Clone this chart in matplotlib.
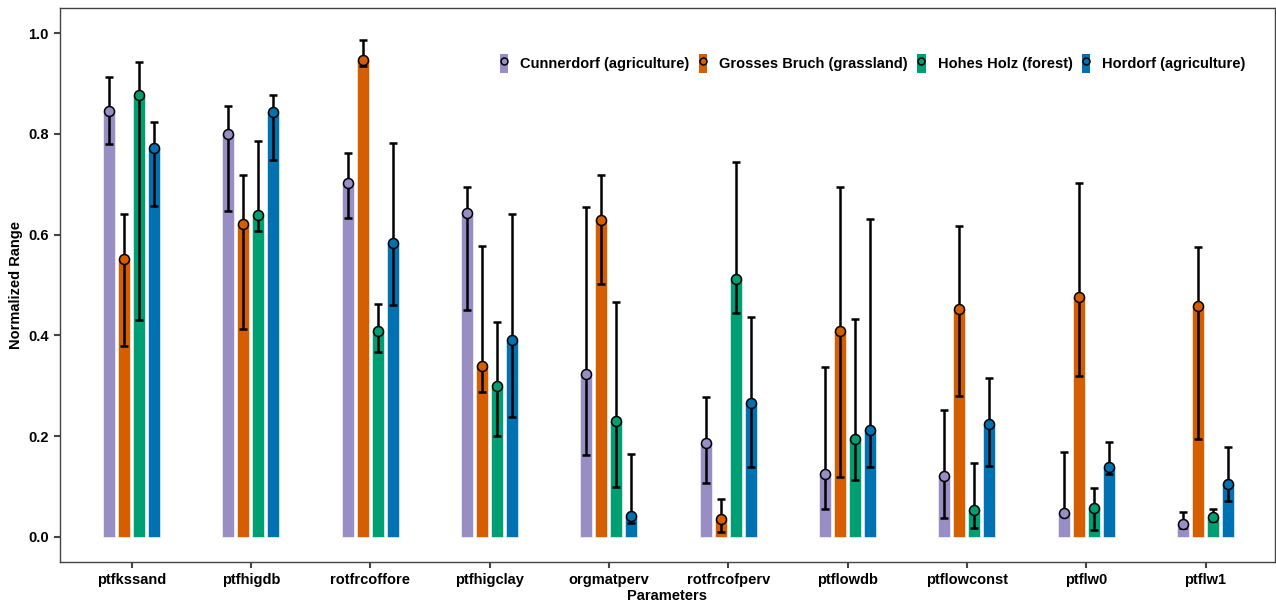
import numpy as np
import matplotlib.pyplot as plt
from matplotlib.patches import Patch
from matplotlib.lines import Line2D
from matplotlib.legend_handler import HandlerTuple

plt.rcParams['font.family'] = ['Liberation Sans', 'DejaVu Sans']
plt.rcParams['font.weight'] = 'bold'

params = ['ptfkssand', 'ptfhigdb', 'rotfrcoffore', 'ptfhigclay', 'orgmatperv',
          'rotfrcofperv', 'ptflowdb', 'ptflowconst', 'ptflw0', 'ptflw1']
sites = ['Cunnerdorf (agriculture)', 'Grosses Bruch (grassland)',
         'Hohes Holz (forest)', 'Hordorf (agriculture)']
colors = ['#998ec3', '#d55e00', '#009e73', '#0072b2']

# median normalized range per site
cunnerdorf = [0.845, 0.799, 0.703, 0.642, 0.323, 0.186, 0.125, 0.120, 0.047, 0.026]
grosses_bruch = [0.552, 0.621, 0.947, 0.339, 0.628, 0.036, 0.409, 0.452, 0.477, 0.459]
hohes_holz = [0.878, 0.639, 0.408, 0.300, 0.231, 0.511, 0.195, 0.054, 0.058, 0.040]
hordorf = [0.772, 0.844, 0.583, 0.391, 0.042, 0.266, 0.213, 0.225, 0.139, 0.104]

# lower / upper bounds
cunnerdorf_lo = [0.780, 0.646, 0.632, 0.450, 0.163, 0.106, 0.056, 0.037, 0.045, 0.018]
cunnerdorf_hi = [0.913, 0.856, 0.761, 0.694, 0.655, 0.278, 0.337, 0.252, 0.168, 0.049]
grosses_bruch_lo = [0.378, 0.412, 0.934, 0.288, 0.502, 0.009, 0.118, 0.280, 0.320, 0.194]
grosses_bruch_hi = [0.641, 0.719, 0.987, 0.577, 0.719, 0.076, 0.694, 0.618, 0.702, 0.575]
hohes_holz_lo = [0.430, 0.608, 0.367, 0.200, 0.099, 0.444, 0.112, 0.017, 0.014, 0.031]
hohes_holz_hi = [0.942, 0.785, 0.462, 0.427, 0.466, 0.745, 0.433, 0.147, 0.098, 0.056]
hordorf_lo = [0.657, 0.749, 0.461, 0.237, 0.028, 0.139, 0.139, 0.141, 0.125, 0.071]
hordorf_hi = [0.823, 0.877, 0.782, 0.641, 0.165, 0.436, 0.630, 0.316, 0.188, 0.179]

values = [cunnerdorf, grosses_bruch, hohes_holz, hordorf]
lows = [cunnerdorf_lo, grosses_bruch_lo, hohes_holz_lo, hordorf_lo]
highs = [cunnerdorf_hi, grosses_bruch_hi, hohes_holz_hi, hordorf_hi]

fig = plt.figure(figsize=(12.76, 6.07), dpi=100)
ax = fig.add_axes([0.047, 0.074, 0.952, 0.913])

x = np.arange(len(params))
step = 0.126
width = 0.1
handles = []
for i in range(4):
    xi = x + (i - 1.5) * step
    v = np.array(values[i])
    err = [v - np.array(lows[i]), np.array(highs[i]) - v]
    ax.bar(xi, v, width=width, color=colors[i], edgecolor='white', linewidth=0.4, zorder=2)
    ax.errorbar(xi, v, yerr=err, fmt='none', ecolor='black', elinewidth=1.8,
                capsize=2.6, capthick=1.8, zorder=3)
    ax.plot(xi, v, 'o', ms=7.2, mfc=colors[i], mec='black', mew=1.1, zorder=4)
    handles.append((Patch(facecolor=colors[i]),
                    Line2D([], [], marker='o', ls='none', ms=5, mfc=colors[i],
                           mec='black', mew=1.1)))

# patch and circle drawn on top of each other in the key
ax.legend(handles, sites, handler_map={tuple: HandlerTuple(ndivide=1, pad=0)},
          loc='upper right', bbox_to_anchor=(0.987, 0.94), ncol=4, frameon=False,
          fontsize=10.5, handlelength=0.6, handleheight=1.6, handletextpad=0.82,
          columnspacing=0.62)

ax.set_xlim(-0.6, 9.58)
ax.set_ylim(-0.05, 1.05)
ax.set_xticks(x)
ax.set_xticklabels(params, fontsize=10.5, fontweight='bold')
ax.set_yticks([0.0, 0.2, 0.4, 0.6, 0.8, 1.0])
ax.set_yticklabels(['0.0', '0.2', '0.4', '0.6', '0.8', '1.0'], fontsize=10.5, fontweight='bold')
ax.tick_params(axis='both', direction='out', length=4, width=1.5, color='#444444', pad=4)
for s in ax.spines.values():
    s.set_color('#444444')
    s.set_linewidth(1.0)
ax.set_xlabel('Parameters', fontsize=10.5, fontweight='bold', labelpad=1)
ax.set_ylabel('Normalized Range', fontsize=10.5, fontweight='bold', labelpad=4)

fig.savefig('out.png', dpi=100)
